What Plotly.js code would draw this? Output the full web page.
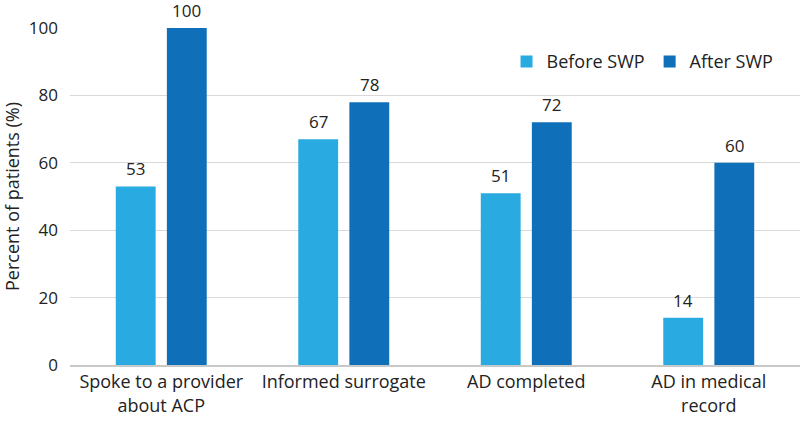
<!DOCTYPE html>
<html><head><meta charset="utf-8">
<script src="https://cdn.plot.ly/plotly-3.0.1.min.js"></script>
<style>body{margin:0;background:#fff}#c{width:800px;height:425px}</style>
</head><body><div id="c"></div>
<script>
const categories = ["Spoke to a provider<br>about ACP", "Informed surrogate", "AD completed", "AD in medical<br>record"];
const beforeSWP = [53, 67, 51, 14];
const afterSWP = [100, 78, 72, 60];
const seriesNames = ["Before SWP", "After SWP"];
const yTicks = [0, 20, 40, 60, 80, 100];

const font = "'Open Sans', 'Noto Sans', sans-serif";
const traces = [
  {type:'bar', name:seriesNames[0], x:categories, y:beforeSWP, marker:{color:'#29ABE2'}},
  {type:'bar', name:seriesNames[1], x:categories, y:afterSWP, marker:{color:'#0F6FB8'}}
];
const labelShift = 25.5;
const annotations = [];
categories.forEach((c, i) => {
  annotations.push({x:c, y:beforeSWP[i], xref:'x', yref:'y', text:String(beforeSWP[i]), showarrow:false,
    yanchor:'bottom', xshift:-labelShift, yshift:4, font:{size:17, color:'#222'}});
  annotations.push({x:c, y:afterSWP[i], xref:'x', yref:'y', text:String(afterSWP[i]), showarrow:false,
    yanchor:'bottom', xshift:labelShift, yshift:4, font:{size:17, color:'#222'}});
});
const layout = {
  width:800, height:425,
  margin:{l:70, r:0, t:28, b:60},
  font:{family:font, size:17, color:'#222'},
  barmode:'group', bargap:0.44, bargroupgap:0.22,
  showlegend:true,
  annotations: annotations,
  legend:{orientation:'h', x:0.598, y:0.9, xanchor:'left', yanchor:'middle', font:{size:18}, traceorder:'normal'},
  xaxis:{showgrid:false, showline:true, linecolor:'#c8c8c8', linewidth:1.5, ticks:'', tickfont:{size:18}, zeroline:false},
  yaxis:{range:[0,100], tickvals:yTicks, showgrid:true, gridcolor:'#d9d9d9', gridwidth:1,
         zeroline:false, ticks:'', tickfont:{size:17}, ticklabelstandoff:11,
         title:{text:'Percent of patients (%)', font:{size:18}, standoff:6}},
  plot_bgcolor:'#fff', paper_bgcolor:'#fff'
};
Plotly.newPlot('c', traces, layout, {displayModeBar:false});
</script></body></html>
